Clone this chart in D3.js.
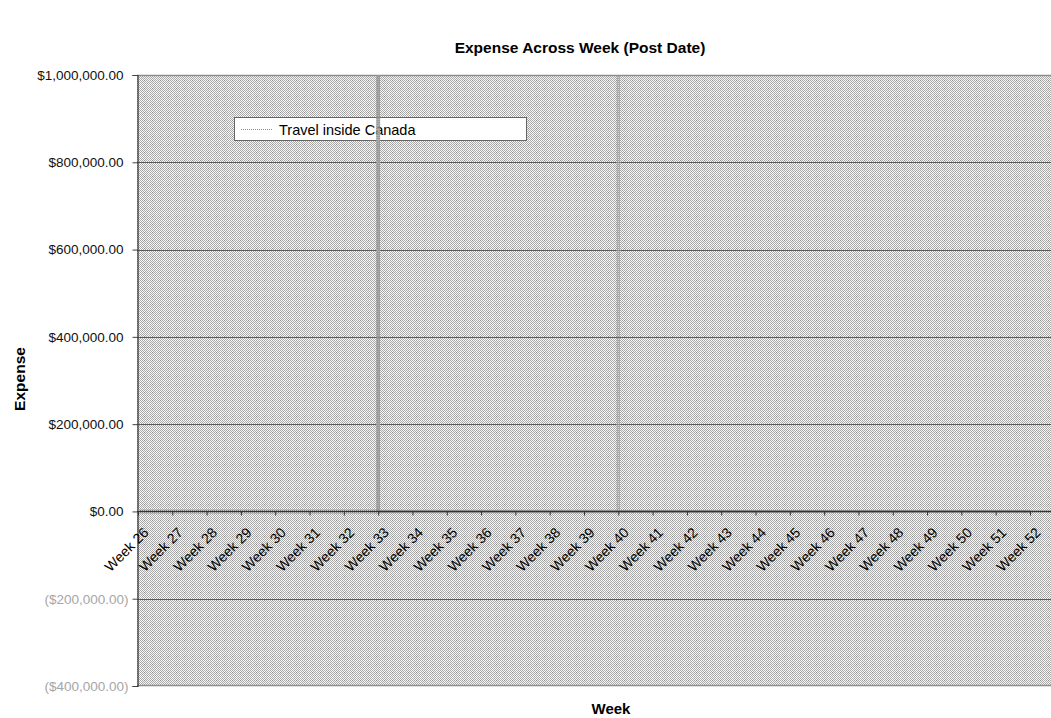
<!DOCTYPE html>
<html>
<head>
<meta charset="utf-8">
<script src="https://cdn.jsdelivr.net/npm/d3@7"></script>
<style>
  html, body { margin: 0; padding: 0; background: #ffffff; overflow: hidden; }
  svg { display: block; font-family: "Liberation Sans", Arial, sans-serif; }
</style>
</head>
<body>
<svg id="chart" width="1051" height="718"></svg>
<script>
// Weekly categories on the x axis
const weeks = ["Week 26", "Week 27", "Week 28", "Week 29", "Week 30", "Week 31", "Week 32",
  "Week 33", "Week 34", "Week 35", "Week 36", "Week 37", "Week 38", "Week 39", "Week 40",
  "Week 41", "Week 42", "Week 43", "Week 44", "Week 45", "Week 46", "Week 47", "Week 48",
  "Week 49", "Week 50", "Week 51", "Week 52"];

// Expense per week for "Travel inside Canada" (weeks 33 and 40 run far past the axis maximum)
const travelInsideCanada = [0, 0, 0, 0, 0, 0, 0, 25000000, 0, 0, 0, 0, 0, 0, 25000000,
  0, 0, 0, 0, 0, 0, 0, 0, 0, 0, 0, 0];

// Value axis ticks
const yTicks = [-400000, -200000, 0, 200000, 400000, 600000, 800000, 1000000];

const seriesName = "Travel inside Canada";

const svg = d3.select("#chart");

const plot = { left: 137, top: 75, bottom: 686, right: 1066 };

const y = d3.scaleLinear().domain([-400000, 1000000]).range([plot.bottom, plot.top]);
const x = d3.scalePoint().domain(weeks).range([138, 1030]);

// Dithered plot-area fill
const defs = svg.append("defs");
const pat = defs.append("pattern")
  .attr("id", "dither").attr("patternUnits", "userSpaceOnUse")
  .attr("width", 8).attr("height", 8);
pat.append("rect").attr("width", 8).attr("height", 8).attr("fill", "#f4f4f4");
for (let i = 0; i < 8; i++) {
  for (let j = 0; j < 8; j++) {
    if ((i + j) % 2 === 0) {
      pat.append("rect").attr("x", i).attr("y", j).attr("width", 1).attr("height", 1)
        .attr("fill", "#a9a9a9");
    }
  }
}
// light dotted minor grid inside each tile
for (let k = 1; k < 8; k += 2) {
  pat.append("rect").attr("x", k).attr("y", 4).attr("width", 1).attr("height", 1).attr("fill", "#ffffff");
  pat.append("rect").attr("x", 4).attr("y", k).attr("width", 1).attr("height", 1).attr("fill", "#ffffff");
}
pat.append("rect").attr("x", 0).attr("y", 0).attr("width", 1).attr("height", 1).attr("fill", "#8a8a8a");

defs.append("clipPath").attr("id", "plotClip")
  .append("rect")
  .attr("x", plot.left).attr("y", plot.top)
  .attr("width", plot.right - plot.left).attr("height", plot.bottom - plot.top);

svg.append("rect")
  .attr("x", plot.left).attr("y", plot.top)
  .attr("width", plot.right - plot.left).attr("height", plot.bottom - plot.top)
  .attr("fill", "url(#dither)");

// plot border top / bottom
svg.append("line")
  .attr("x1", plot.left).attr("x2", plot.right)
  .attr("y1", plot.top + 0.5).attr("y2", plot.top + 0.5)
  .attr("stroke", "#8c8c8c").attr("stroke-width", 1.5);
svg.append("line")
  .attr("x1", plot.left).attr("x2", plot.right)
  .attr("y1", plot.bottom - 0.5).attr("y2", plot.bottom - 0.5)
  .attr("stroke", "#8c8c8c").attr("stroke-width", 1.5);

// major horizontal gridlines
svg.append("g")
  .selectAll("line")
  .data(yTicks.filter(v => v !== 0 && v !== 1000000 && v !== -400000))
  .join("line")
  .attr("x1", plot.left).attr("x2", plot.right)
  .attr("y1", d => Math.round(y(d)) + 0.5).attr("y2", d => Math.round(y(d)) + 0.5)
  .attr("stroke", "#5a5a5a").attr("stroke-width", 1);

// Value axis
const money = d3.format("$,.2f");
const yAxis = svg.append("g")
  .attr("transform", `translate(${plot.left + 0.5},0)`)
  .call(d3.axisLeft(y).tickValues(yTicks).tickSize(5).tickPadding(4)
    .tickFormat(v => v < 0 ? "(" + money(-v) + ")" : money(v)));
yAxis.select(".domain").attr("stroke", "#333333").attr("stroke-width", 1.2);
yAxis.selectAll(".tick line").attr("stroke", "#444444");
yAxis.selectAll(".tick text")
  .attr("font-size", 13.5)
  .attr("x", d => d < 0 ? -9 : -14)
  .attr("fill", d => d < 0 ? "#a6a6a6" : "#111111")
  .attr("font-family", "'Liberation Sans', Arial, sans-serif");

// Legend box (series lines are drawn afterwards)
const legend = svg.append("g");
legend.append("rect")
  .attr("x", 234.5).attr("y", 117.5).attr("width", 292).attr("height", 23)
  .attr("fill", "#ffffff").attr("stroke", "#666666").attr("stroke-width", 1);
legend.append("line")
  .attr("x1", 241).attr("x2", 273).attr("y1", 129.5).attr("y2", 129.5)
  .attr("stroke", "#8a8a8a").attr("stroke-width", 1).attr("stroke-dasharray", "1,1");
legend.append("text")
  .attr("x", 279).attr("y", 134.5)
  .attr("font-size", 14.5).attr("fill", "#000000")
  .text(seriesName);

// Series: baseline trace with spikes up to each week's value
const pts = [];
weeks.forEach((w, i) => {
  pts.push([x(w), y(0)]);
  pts.push([x(w), y(travelInsideCanada[i])]);
  pts.push([x(w), y(0)]);
});
const lineGen = d3.line();
svg.append("g").attr("clip-path", "url(#plotClip)")
  .append("path")
  .attr("d", lineGen(pts))
  .attr("fill", "none")
  .attr("stroke", "#9a9a9a")
  .attr("stroke-width", 4)
  .attr("stroke-dasharray", "1,1");

// Category axis at $0
const xAxis = svg.append("g")
  .attr("transform", `translate(0,${Math.round(y(0)) + 0.5})`)
  .call(d3.axisBottom(x).tickSize(4).tickPadding(3));
xAxis.select(".domain").attr("stroke", "#333333").attr("stroke-width", 1.5)
  .attr("d", `M${plot.left},0H${plot.right}`);
xAxis.selectAll(".tick line").attr("stroke", "#333333");
xAxis.selectAll(".tick text")
  .attr("font-size", 14)
  .attr("fill", "#000000")
  .attr("font-family", "'Liberation Sans', Arial, sans-serif")
  .attr("text-anchor", "end")
  .attr("dy", 0)
  .attr("transform", "translate(11,22) rotate(-45)")
  .attr("y", 0).attr("x", 0);

// Title
svg.append("text")
  .attr("x", 580).attr("y", 53)
  .attr("text-anchor", "middle")
  .attr("font-size", 15.5).attr("font-weight", "bold")
  .text("Expense Across Week (Post Date)");

// Axis titles
svg.append("text")
  .attr("transform", "translate(25,379) rotate(-90)")
  .attr("text-anchor", "middle")
  .attr("font-size", 15.5).attr("font-weight", "bold")
  .text("Expense");

svg.append("text")
  .attr("x", 611).attr("y", 714)
  .attr("text-anchor", "middle")
  .attr("font-size", 15).attr("font-weight", "bold")
  .text("Week");
</script>
</body>
</html>
